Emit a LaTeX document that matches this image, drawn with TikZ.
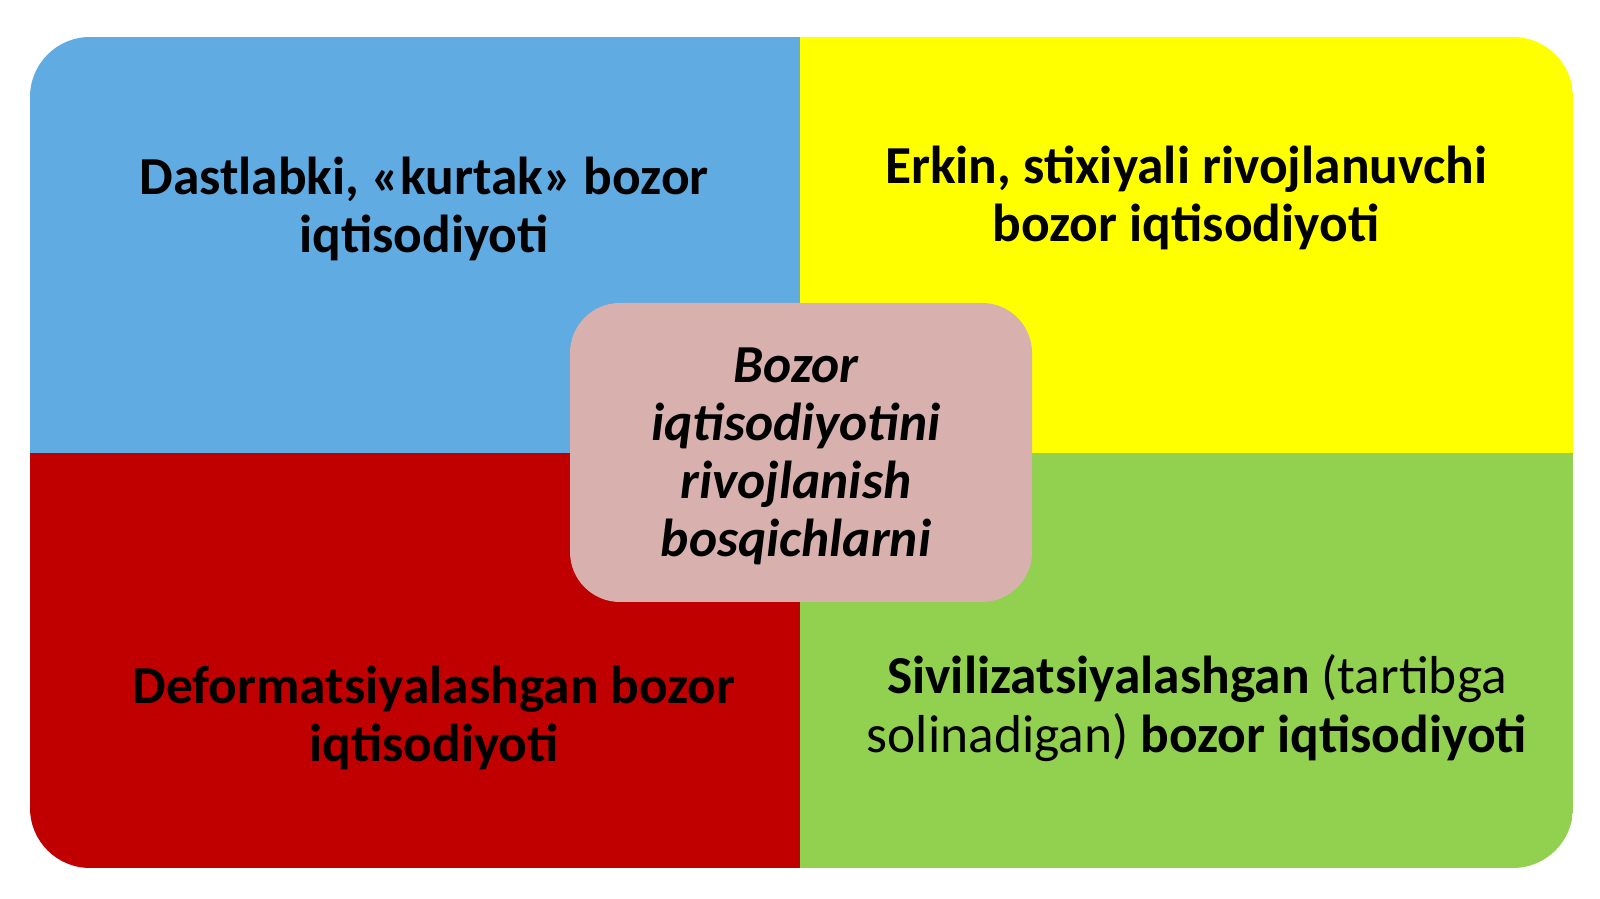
\documentclass[tikz,border=0pt]{standalone}
\usepackage{fontspec}
\setmainfont{Carlito}
\usepackage{tikz}
\usetikzlibrary{positioning}

\definecolor{qblue}{RGB}{96,171,226}
\definecolor{qyellow}{RGB}{255,255,0}
\definecolor{qred}{RGB}{192,0,0}
\definecolor{qgreen}{RGB}{146,208,80}
\definecolor{qpink}{RGB}{216,177,174}

\begin{document}
\begin{tikzpicture}[
                label/.style = {
                    align = center,
                    font = \fontsize{15.2}{16.6}\selectfont\bfseries,
                    inner sep = 0pt
                },
                hub/.style = {
                    fill = qpink,
                    rounded corners = 0.5cm,
                    minimum width = 4.62cm,
                    minimum height = 2.99cm
                }
            ]
            \useasboundingbox (0,0) rectangle (16,8.99);
            % 
            \begin{scope}
                \clip[rounded corners=0.6cm] (0.30,0.31) rectangle (15.73,8.62);
                \fill[qblue] (0.30,4.46) rectangle (8.00,8.62);
                \fill[qyellow] (8.00,4.46) rectangle (15.73,8.62);
                \fill[qred] (0.30,0.31) rectangle (8.00,4.46);
                \fill[qgreen] (8.00,0.31) rectangle (15.73,4.46);
            \end{scope}
            % 
            \node[hub] (hub) at (8.01,4.465) {};
            \node[label, font=\fontsize{15.2}{16.5}\selectfont\bfseries\itshape] (centre) at (7.96,4.43)
                {Bozor\\ iqtisodiyotini\\ rivojlanish\\ bosqichlarni};
            % 
            \node[label] (first) at (4.24,6.90) {Dastlabki, «kurtak» bozor\\ iqtisodiyoti};
            \node[label] (second) at (11.86,7.01) {Erkin, stixiyali rivojlanuvchi\\ bozor iqtisodiyoti};
            \node[label] (third) at (4.34,1.81) {Deformatsiyalashgan bozor\\ iqtisodiyoti};
            \node[label] (fourth) at (11.97,1.91)
                {Sivilizatsiyalashgan \mdseries(tartibga\\ \mdseries solinadigan) \bfseries bozor iqtisodiyoti};
            % 
        \end{tikzpicture}
\end{document}
